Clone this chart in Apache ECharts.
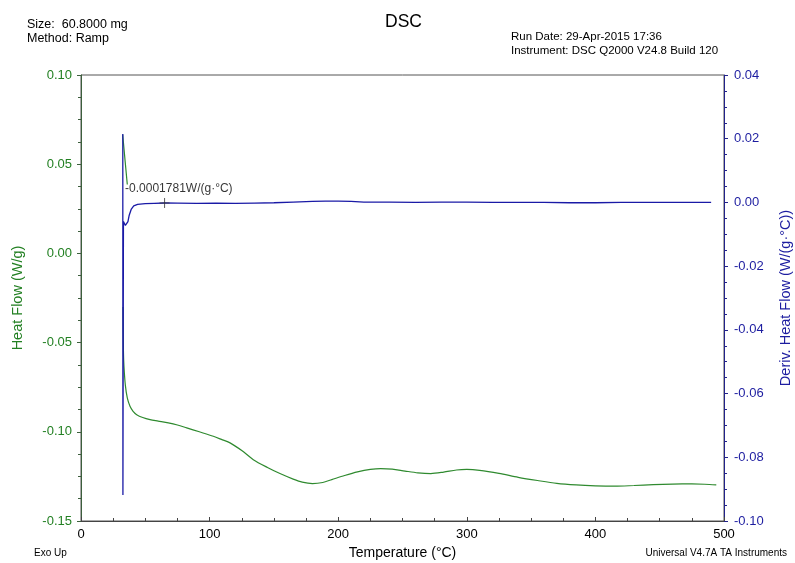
<!DOCTYPE html>
<html>
<head>
<meta charset="utf-8">
<script src="https://cdn.jsdelivr.net/npm/echarts@6/dist/echarts.min.js"></script>
<style>
  html, body { margin: 0; padding: 0; background: #fff; }
  #chart { width: 795px; height: 563px; }
</style>
</head>
<body>
<div id="chart"></div>
<script>
// Heat flow (W/g) versus temperature (°C); null breaks the trace.
var heatFlowT = [32.4, 36.0, null,
  32.7, 33.0, 33.4, 34.5, 36.0, 38.1, 40.5, 43.3, 48, 53.7, 60, 67.9, 75, 82.2, 92, 102.9,
  110, 115.9, 125, 134, 145, 154.7, 165, 172, 180, 188, 195, 205, 215, 225, 233, 242,
  252, 262, 272, 282, 292, 300, 310, 325, 340, 355, 370, 385, 400, 415, 430, 445, 460,
  475, 485, 494];
var heatFlowV = [0.0666, 0.0386, null,
  -0.030, -0.055, -0.0633, -0.074, -0.081, -0.0857, -0.0885, -0.0904, -0.0920, -0.0932,
  -0.0940, -0.0950, -0.0962, -0.0978, -0.1000, -0.1025, -0.1045, -0.1062, -0.1105,
  -0.1156, -0.1200, -0.1234, -0.1265, -0.1282, -0.1290, -0.1284, -0.1268, -0.1245,
  -0.1225, -0.1211, -0.1206, -0.1209, -0.1220, -0.1230, -0.1234, -0.1226, -0.1214,
  -0.1211, -0.1216, -0.1233, -0.1255, -0.1273, -0.1289, -0.1298, -0.1303, -0.1305,
  -0.1301, -0.1296, -0.1293, -0.1292, -0.1294, -0.1298];

// Derivative heat flow (W/(g·°C)) versus temperature (°C)
var derivT = [32.5, 32.6, 32.8, 33.0, 34.5, 35.5, 36.5, 37.5, 39, 41, 44, 50, 57, 65, 75,
  90, 105, 120, 135, 150, 165, 180, 190, 200, 210, 220, 240, 260, 280, 300, 320, 340,
  360, 380, 400, 420, 440, 460, 480, 490];
var derivV = [0.0215, -0.0918, -0.048, -0.0060, -0.0072, -0.0074, -0.0060, -0.0040,
  -0.0022, -0.0011, -0.0006, -0.0004, -0.0003, -0.00018, -0.0002, -0.0003, -0.0002,
  -0.0003, -0.0002, -0.0001, 0.0001, 0.0003, 0.0004, 0.0004, 0.0003, 0.0001, 0.0001,
  0.0000, 0.0001, 0.0001, 0.0000, 0.0000, 0.0000, -0.0001, -0.0001, 0.0000, 0.0000,
  0.0000, 0.0000, 0.0000];

// Cursor annotation on the derivative trace
var cursorT = 65;
var cursorV = -0.0001781;
var cursorLabel = '-0.0001781W/(g·°C)';

var xTicks = [0, 100, 200, 300, 400, 500];

function pairs(xs, ys) {
  return xs.map(function (x, i) { return (x === null || ys[i] === null) ? [NaN, NaN] : [x, ys[i]]; });
}

var GREEN = '#2f8a2f';
var GREEN_TXT = '#238023';
var BLUE = '#1a1aa6';
var BLUE_TXT = '#1d1da0';
var FONT = 'Liberation Sans, Arial, sans-serif';

function txt(size, extra) {
  var s = { fontSize: size, fontWeight: 'normal', color: '#000', fontFamily: FONT };
  for (var k in extra) s[k] = extra[k];
  return s;
}

var chart = echarts.init(document.getElementById('chart'), null, { renderer: 'canvas' });
chart.setOption({
  animation: false,
  backgroundColor: '#fff',
  textStyle: { fontFamily: FONT },
  title: [
    { text: 'DSC', left: 385, top: 13, padding: 0, textStyle: txt(17.5) },
    { text: 'Size:  60.8000 mg\nMethod: Ramp', left: 27, top: 18, padding: 0, textStyle: txt(12.5, { lineHeight: 14 }) },
    { text: 'Run Date: 29-Apr-2015 17:36\nInstrument: DSC Q2000 V24.8 Build 120', left: 511, top: 30, padding: 0, textStyle: txt(11.5, { lineHeight: 14 }) },
    { text: 'Exo Up', left: 34, top: 548, padding: 0, textStyle: txt(10) },
    { text: 'Universal V4.7A TA Instruments', right: 8, top: 548, padding: 0, textStyle: txt(10) }
  ],
  grid: { left: 81, right: 71, top: 75, bottom: 42, show: true, borderColor: '#555', borderWidth: 1,
    containLabel: false, outerBoundsMode: 'none' },
  xAxis: {
    type: 'value', min: 0, max: 500, interval: 100,
    name: 'Temperature (°C)', nameLocation: 'middle', nameGap: 25,
    nameTextStyle: { fontSize: 14, color: '#000', fontFamily: FONT },
    axisLine: { onZero: false, lineStyle: { color: '#444', width: 1 } },
    axisTick: { inside: true, length: 4, lineStyle: { color: '#444' } },
    minorTick: { show: true, splitNumber: 4, length: 3, lineStyle: { color: '#444' } },
    axisLabel: { fontSize: 13, color: '#000', margin: 7, fontFamily: FONT,
      formatter: function (v) { return xTicks.indexOf(v) >= 0 ? String(v) : ''; } },
    splitLine: { show: false }
  },
  yAxis: [
    {
      type: 'value', min: -0.15, max: 0.10, interval: 0.05, position: 'left',
      name: 'Heat Flow (W/g)', nameLocation: 'middle', nameGap: 56, nameRotate: 90,
      nameTextStyle: { fontSize: 14.5, color: GREEN_TXT, fontFamily: FONT },
      axisLine: { show: true, onZero: false, lineStyle: { color: '#3d5f3d', width: 1 } },
      axisTick: { show: true, inside: false, length: 4, lineStyle: { color: '#3d5f3d' } },
      minorTick: { show: true, splitNumber: 4, length: 3, lineStyle: { color: '#3d5f3d' } },
      axisLabel: { fontSize: 13, color: GREEN_TXT, margin: 9, fontFamily: FONT,
        formatter: function (v) { return v.toFixed(2); } },
      splitLine: { show: false }
    },
    {
      type: 'value', min: -0.10, max: 0.04, interval: 0.02, position: 'right',
      name: 'Deriv. Heat Flow (W/(g·°C))', nameLocation: 'middle', nameGap: 54, nameRotate: 90,
      nameTextStyle: { fontSize: 14.5, color: BLUE_TXT, fontFamily: FONT },
      axisLine: { show: true, onZero: false, lineStyle: { color: '#22228a', width: 1 } },
      axisTick: { show: true, inside: false, length: 4, lineStyle: { color: '#22228a' } },
      minorTick: { show: true, splitNumber: 4, length: 3, lineStyle: { color: '#22228a' } },
      axisLabel: { fontSize: 13, color: BLUE_TXT, margin: 10, fontFamily: FONT,
        formatter: function (v) { return v.toFixed(2); } },
      splitLine: { show: false }
    }
  ],
  series: [
    {
      name: 'Heat Flow', type: 'line', yAxisIndex: 0, showSymbol: false, smooth: 0.3,
      connectNulls: false, data: pairs(heatFlowT, heatFlowV),
      lineStyle: { color: GREEN, width: 1.2 }, itemStyle: { color: GREEN }
    },
    {
      name: 'Deriv. Heat Flow', type: 'line', yAxisIndex: 1, showSymbol: false, smooth: false,
      data: pairs(derivT, derivV),
      lineStyle: { color: BLUE, width: 1.3 }, itemStyle: { color: BLUE }
    },
    {
      name: 'Cursor', type: 'scatter', yAxisIndex: 1,
      data: [[cursorT, cursorV]],
      symbol: 'path://M5,0V10M0,5H10', symbolSize: [10, 10],
      itemStyle: { color: 'none', borderColor: '#333', borderWidth: 1 },
      label: { show: true, formatter: cursorLabel, position: [-32, -7], align: 'left', verticalAlign: 'middle',
        fontSize: 12, color: '#000', fontFamily: FONT },
      silent: true, z: 5
    }
  ]
});
</script>
</body>
</html>
